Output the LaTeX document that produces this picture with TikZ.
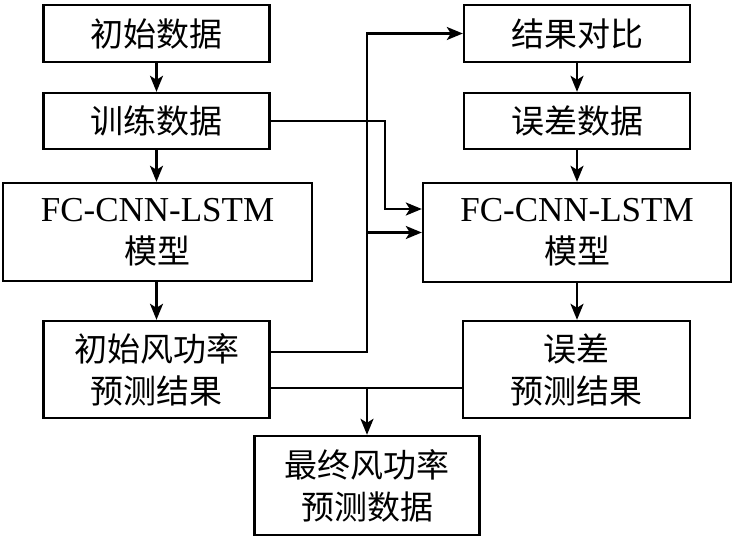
\documentclass[tikz,border=0pt]{standalone}
\usepackage{fontspec}
\setmainfont{Liberation Serif}
\newfontfamily\cjk{Noto Sans CJK SC}
\usetikzlibrary{arrows.meta, positioning, calc}
\tikzset{
  every picture/.style={x=1pt, y=-1pt, line width=2.4pt},
  box/.style={draw, align=center, inner sep=0pt, minimum width=#1, font=\fontsize{33}{42}\selectfont},
  box/.default=226pt,
  latin/.style={font=\fontsize{35}{42}\selectfont},
  arrow/.style={-{Stealth[length=16pt, width=13pt, inset=4pt]}},
}

\begin{document}
\begin{tikzpicture}
  \useasboundingbox (0,0) rectangle (733,540);
  % left column
  \node[box, minimum height=57pt] (init) at (156.5,33.5) {\cjk 初始数据};
  \node[box, minimum height=56pt] (train) at (156.5,121) {\cjk 训练数据};
  \node[box=309pt, minimum height=98pt, latin] (lmodel) at (157.5,232) {FC-CNN-LSTM\\{\cjk\fontsize{33}{42}\selectfont 模型}};
  \node[box, minimum height=97pt] (initpred) at (156.5,369.5) {\cjk 初始风功率\\\cjk 预测结果};
  % right column
  \node[box, minimum height=57pt] (compare) at (577,33.5) {\cjk 结果对比};
  \node[box, minimum height=56pt] (errdata) at (577,121) {\cjk 误差数据};
  \node[box=308pt, minimum height=99pt, latin] (rmodel) at (577,232.5) {FC-CNN-LSTM\\{\cjk\fontsize{33}{42}\selectfont 模型}};
  \node[box=227pt, minimum height=97pt] (errpred) at (576.5,369.5) {\cjk 误差\\\cjk 预测结果};
  \node[box=225pt, minimum height=99pt] (final) at (367,485.5) {\cjk 最终风功率\\\cjk 预测数据};

  \coordinate (bus) at (367,352);
  \coordinate (tj) at (385,209);
  \coordinate (mj) at (367,388);

  \draw[arrow] (init) -- (train);
  \draw[arrow] (train) -- (train |- lmodel.north);
  \draw[arrow] (initpred |- lmodel.south) -- (initpred);
  \draw[arrow] (compare) -- (errdata);
  \draw[arrow] (errdata) -- (rmodel);
  \draw[arrow] (rmodel) -- (rmodel |- errpred.north);

  \draw[arrow] (train.east) -| (tj) -- (tj -| rmodel.west);
  \draw[arrow] ([yshift=17.5pt]initpred.east) -- (bus) |- (compare.west);
  \draw[arrow] (bus |- rmodel.west) -- (rmodel.west);
  \draw (mj -| initpred.east) -- (mj -| errpred.west);
  \draw[arrow] (mj) -- (mj |- final.north);
\end{tikzpicture}
\end{document}
